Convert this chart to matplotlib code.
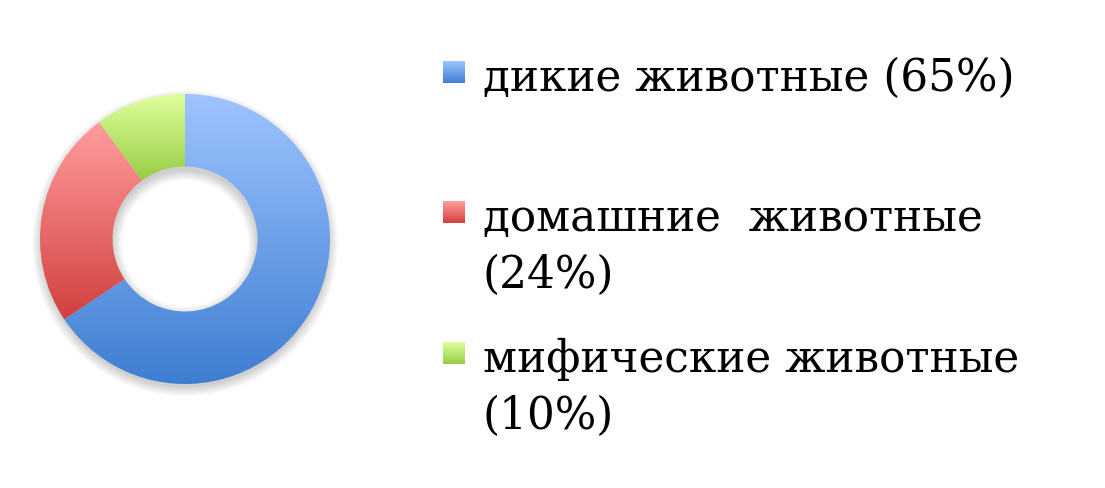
import numpy as np
import matplotlib
matplotlib.use("Agg")
import matplotlib.pyplot as plt
from matplotlib.patches import Wedge
from matplotlib.colors import LinearSegmentedColormap

categories = ["дикие животные", "домашние  животные", "мифические животные"]
values = [65, 24, 10]
labels = ["дикие животные (65%)", "домашние  животные\n(24%)", "мифические животные\n(10%)"]
top_colors = ["#9EC4FF", "#FF9E9E", "#DEFF9C"]
bottom_colors = ["#3E7ED2", "#D2403E", "#98CC45"]

W, H = 1105, 489
fig = plt.figure(figsize=(W / 100, H / 100), dpi=100)
fig.patch.set_facecolor("white")

cx, cy, R = 185, 240, 145
scale = 1.08
ax = fig.add_axes([(cx - R * scale) / W, (H - cy - R * scale) / H, 2 * R * scale / W, 2 * R * scale / H])
ax.set_aspect("equal")
ax.axis("off")

# soft shadow
for i in range(12):
    s = Wedge((0.0, -0.03), 0.99 + 0.006 * i, 0, 360, width=0.49 + 0.012 * i,
              facecolor="black", edgecolor="none", alpha=0.016, zorder=0)
    ax.add_patch(s)

wedges, _ = ax.pie(values, radius=1.0, startangle=90, counterclock=False,
                   wedgeprops=dict(width=0.5, edgecolor="none"),
                   normalize=True)
for w, tc, bc in zip(wedges, top_colors, bottom_colors):
    w.set_facecolor("none")
    ext = w.get_path().get_extents(w.get_patch_transform())
    cmap = LinearSegmentedColormap.from_list("g", [bc, tc])
    grad = np.linspace(0, 1, 256).reshape(-1, 1)
    im = ax.imshow(grad, cmap=cmap, origin="lower", aspect="auto",
                   extent=[ext.x0, ext.x1, ext.y0, ext.y1], zorder=2)
    im.set_clip_path(w)
ax.set_xlim(-scale, scale)
ax.set_ylim(-scale, scale)

# legend
font = "DejaVu Serif"
sq = 22
sq_x = 443
text_x = 483
rows_y = [73, 213, 354]  # centre y of square (pixels from top)
text_top = [57, 197, 338]
for lab, tc, bc, yc, tt in zip(labels, top_colors, bottom_colors, rows_y, text_top):
    lax = fig.add_axes([sq_x / W, (H - yc - sq / 2) / H, sq / W, sq / H])
    lax.axis("off")
    cmap = LinearSegmentedColormap.from_list("g", [bc, tc])
    lax.imshow(np.linspace(0, 1, 64).reshape(-1, 1), cmap=cmap, origin="lower",
               aspect="auto", extent=[0, 1, 0, 1])
    fig.text(text_x / W, 1 - tt / H, lab, fontsize=31.5, family=font,
             va="top", ha="left", linespacing=1.4, color="black")

fig.savefig("out.png", dpi=100, facecolor="white")
